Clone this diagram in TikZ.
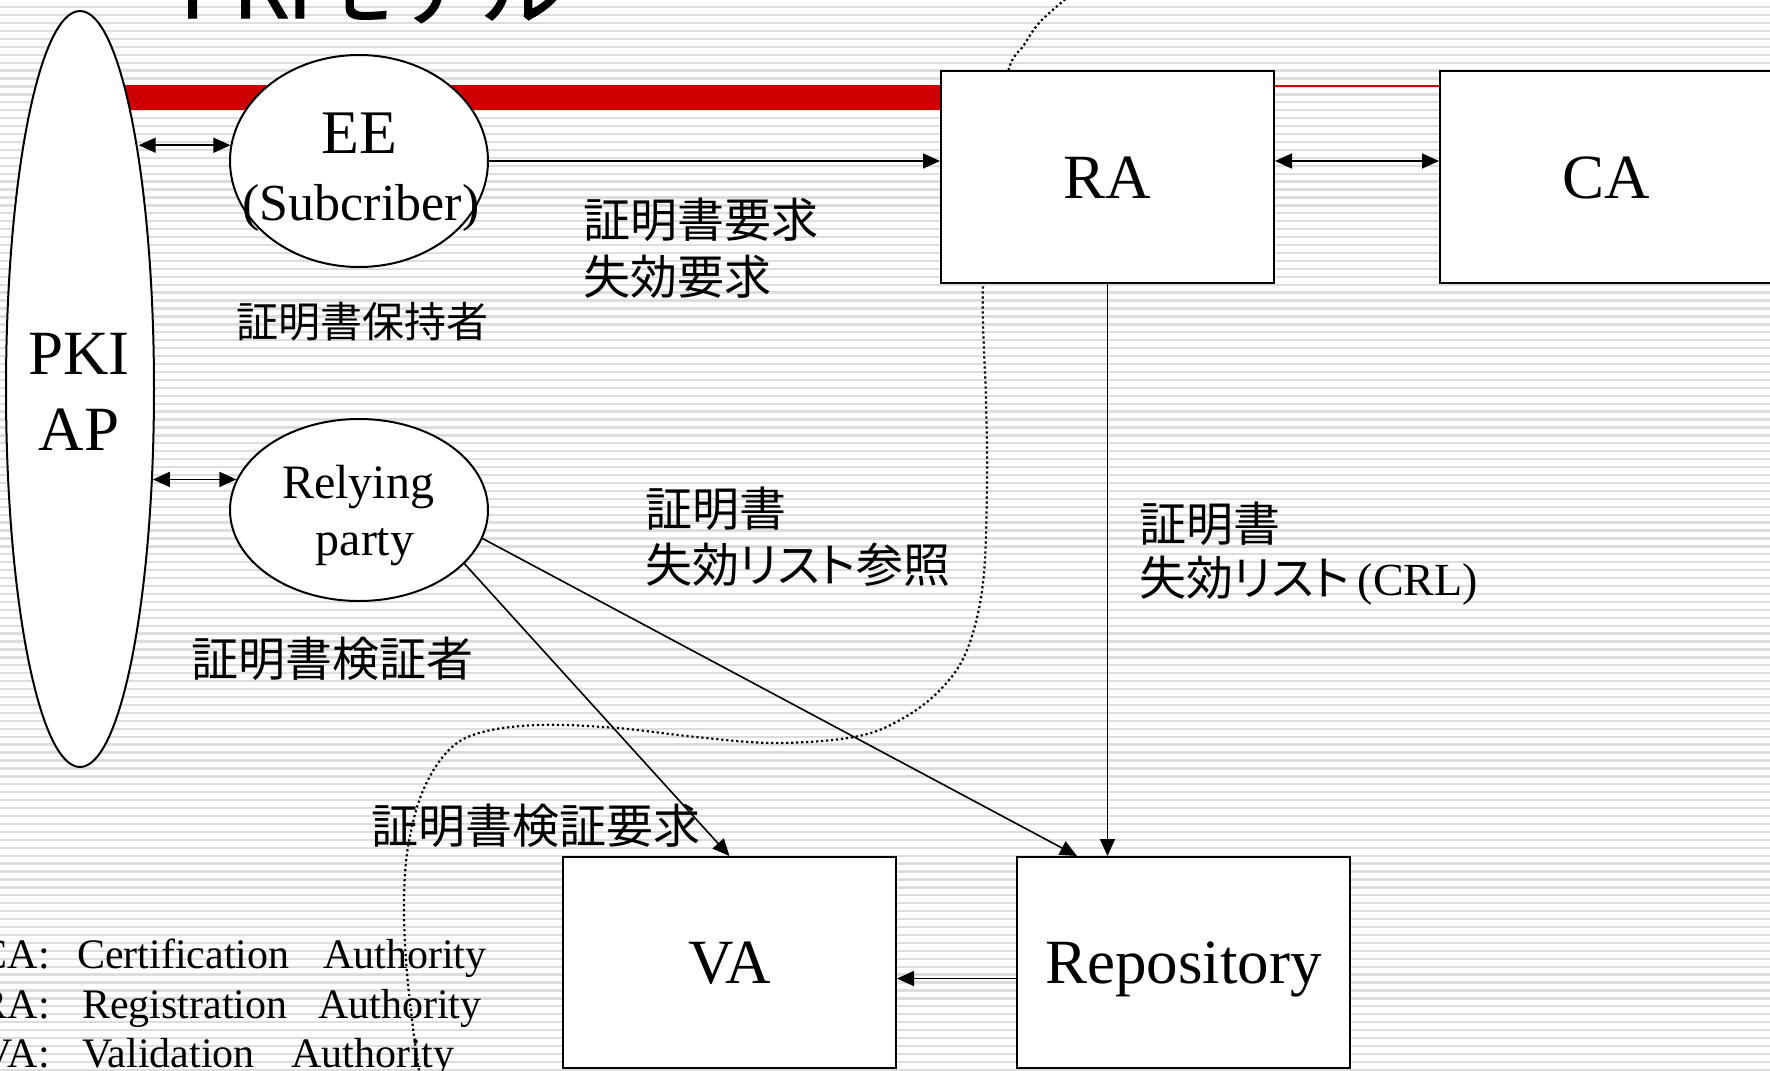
\documentclass[tikz,border=0pt]{standalone}
\usepackage{fontspec}
\setmainfont{Liberation Serif}
\newfontfamily\jp[RawFeature=+palt]{Noto Sans CJK JP}
\newfontfamily\jptitle[FakeBold=1.5]{Noto Sans CJK JP}
\usetikzlibrary{arrows.meta,shapes.geometric,calc}
\pgfdeclarelayer{bg}
\pgfdeclarelayer{mid}
\pgfsetlayers{bg,mid,main}
\definecolor{barred}{RGB}{204,0,0}
\definecolor{stripe}{RGB}{221,221,221}
\tikzset{
  mytip/.tip={Triangle[length=17pt,width=15pt]},
  box/.style={draw,line width=2pt,fill=white,minimum width=333pt,minimum height=212pt,
    inner sep=0pt,text height=42pt,text depth=0pt,font=\fontsize{63}{70}\selectfont},
  oval/.style={ellipse,draw,line width=2pt,fill=white,inner sep=0pt},
  arr/.style={line width=1.6pt,-mytip},
  darr/.style={line width=1.6pt,mytip-mytip},
  dotcurve/.style={line width=2.2pt,dash pattern=on 2.2pt off 2.8pt},
  rmtext/.style={inner sep=0pt,anchor=base},
  jplbl/.style={font=\jp\fontsize{47}{55}\selectfont,inner sep=0pt,anchor=base west},
  leg/.style={font=\fontsize{42}{48}\selectfont,inner sep=0pt}
}
\begin{document}
\begin{tikzpicture}[x=1pt,y=-1pt]
\useasboundingbox (0,0) rectangle (1770,1071);
\clip (0,0) rectangle (1770,1071);

\begin{pgfonlayer}{bg}
  \fill[white] (0,0) rectangle (1770,1071);
  \foreach \k in {0,...,135} {
    \fill[stripe] (0,{6+7.93*\k}) rectangle (1770,{8.3+7.93*\k});
  }
  \fill[barred] (60,85) rectangle (960,110);
  \draw[barred,line width=2pt] (1260,86) -- (1460,86);
\end{pgfonlayer}

\begin{pgfonlayer}{mid}
  \draw[dotcurve] plot[smooth,tension=0.6] coordinates {
    (1069,-4) (1040,22) (1024,45) (1008,72) (994,160) (983,284) (986,400)
    (987,483) (983,583) (967,650) (940,690) (900,720) (854,737) (775,743)
    (696,737) (617,728) (538,725) (479,733) (447,752) (422,793) (408,847)
    (404,900) (406,960) (412,1020) (420,1078)};
\end{pgfonlayer}

% title (cut off at the top)
\node[font=\jptitle\fontsize{84}{90}\selectfont,inner sep=0pt,anchor=base west] (title) at (180,18) {PKIモデル};

% ellipses
\node[oval,minimum width=148pt,minimum height=756pt] (PKI) at (80,389) {};
\node[oval,minimum width=258pt,minimum height=212pt] (EE) at (359,161) {};
\node[oval,minimum width=258pt,minimum height=182pt] (RP) at (359,510) {};

\node[rmtext,font=\fontsize{63}{70}\selectfont] (PKIt1) at (79,374) {PKI};
\node[rmtext,font=\fontsize{63}{70}\selectfont] (PKIt2) at (79,450) {AP};
\node[rmtext,font=\fontsize{62}{70}\selectfont] (EEt1) at (359,153) {EE};
\node[rmtext,font=\fontsize{52}{60}\selectfont] (EEt2) at (361,220) {(Subcriber)};
\node[rmtext,font=\fontsize{48}{56}\selectfont] (RPt1) at (358,498) {Relying};
\node[rmtext,font=\fontsize{48}{56}\selectfont] (RPt2) at (365,555) {party};

% boxes
\node[box] (RA) at (1107.5,177) {RA};
\node[box] (CA) at (1606.5,177) {CA};
\node[box,minimum height=211pt] (VA) at (729.5,962.5) {VA};
\node[box,minimum height=211pt] (Repo) at (1183.5,962.5) {Repository};

% labels
\node[jplbl] (lreq1) at (583,237) {証明書要求};
\node[jplbl] (lreq2) at (583,294) {失効要求};
\node[jplbl,font=\jp\fontsize{42}{50}\selectfont] (lholder) at (236,337) {証明書保持者};
\node[jplbl] (lverifier) at (191,676) {証明書検証者};
\node[jplbl] (lref1) at (645,526) {証明書};
\node[jplbl] (lref2) at (645,582) {失効リスト参照};
\node[jplbl] (lcrl1) at (1139,541) {証明書};
\node[jplbl] (lcrl2) at (1139,595) {失効リスト{\fontspec{Liberation Serif}\fontsize{46}{50}\selectfont\,(CRL)}};
\node[jplbl] (lvreq) at (371,843) {証明書検証要求};

% legend
\node[leg,anchor=base east] (legA1) at (50,968) {CA:};
\node[leg,anchor=base west] (legB1) at (77,968) {Certification};
\node[leg,anchor=base west] (legC1) at (323,968) {Authority};
\node[leg,anchor=base east] (legA2) at (50,1018) {RA:};
\node[leg,anchor=base west] (legB2) at (82,1018) {Registration};
\node[leg,anchor=base west] (legC2) at (318,1018) {Authority};
\node[leg,anchor=base east] (legA3) at (50,1067) {VA:};
\node[leg,anchor=base west] (legB3) at (82,1067) {Validation};
\node[leg,anchor=base west] (legC3) at (291,1067) {Authority};

% connectors
\draw[darr] (PKI.76 |- EE.173) -- (EE.173);
\draw[darr] (PKI.-51.6 |- RP.166) -- (RP.166);
\draw[arr] (EE.east) -- (EE.east -| RA.west);
\draw[darr] (RA.east |- EE.east) -- (CA.west |- EE.east);
\draw[arr] (RA.south) -- (RA.south |- Repo.north);
\draw[arr] ($(Repo.west)+(0,16)$) -- ($(VA.east)+(0,16)$);
\draw[arr] (RP.-27) -- (VA.north);
\draw[arr] (RP.-13) -- ($(Repo.north west)+(61,0)$);
\end{tikzpicture}
\end{document}
